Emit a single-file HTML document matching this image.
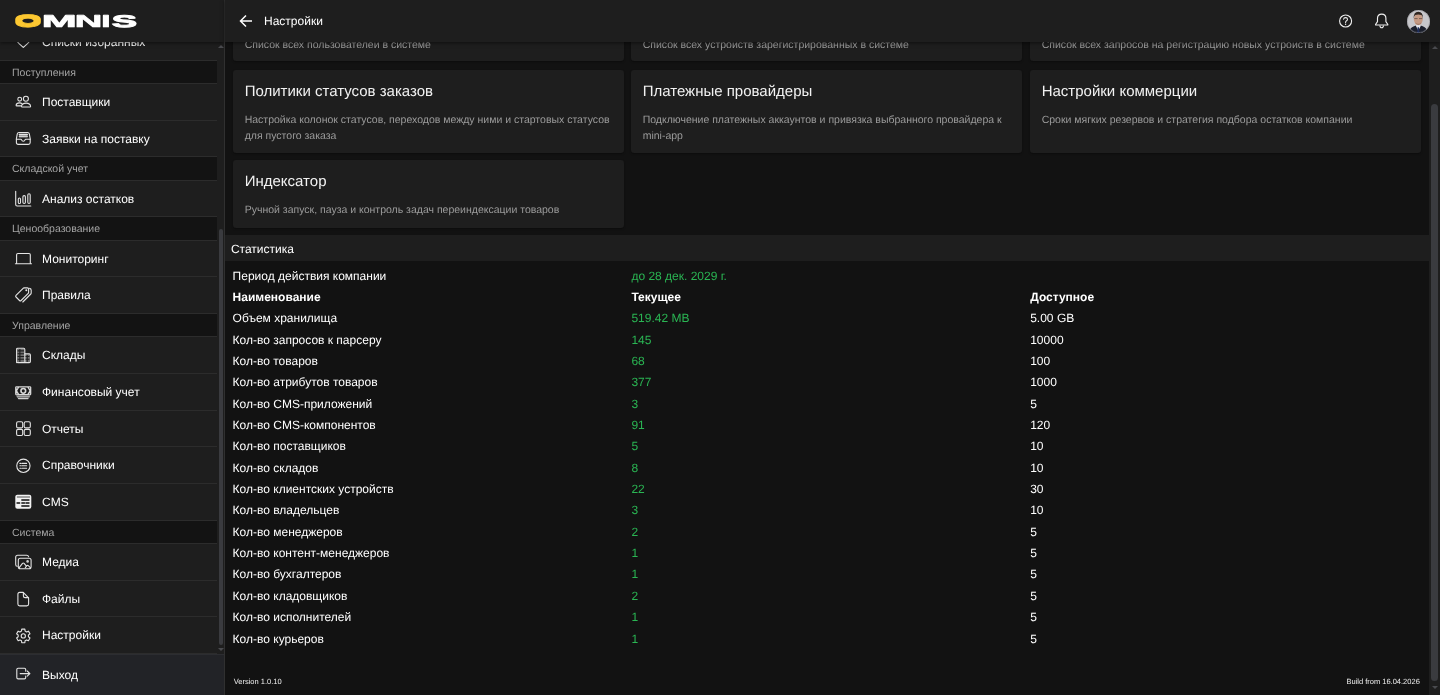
<!DOCTYPE html>
<html lang="ru">
<head>
<meta charset="utf-8">
<title>Настройки</title>
<style>
*{box-sizing:border-box;margin:0;padding:0}
html,body{width:1440px;height:695px;overflow:hidden;background:#121212}
body{-webkit-font-smoothing:antialiased;text-rendering:geometricPrecision;font-family:"Liberation Sans",sans-serif;font-size:12px;color:#fff;position:relative}
.abs{position:absolute}
/* ---------- sidebar ---------- */
#side{position:absolute;left:0;top:0;width:225px;height:695px;background:#1e1e1e;border-right:1px solid #303030;overflow:hidden}
#list{position:absolute;left:0;top:24px;width:217px}
.it{height:36.667px;line-height:37.4px;border-bottom:1px solid #2c2c2c;padding-left:42px;position:relative;font-size:12px;color:#fff;white-space:nowrap;background:#1e1e1e}
.it svg{position:absolute;left:13px;top:8px;width:20px;height:20px;overflow:visible}
.sh{height:23.333px;line-height:24.0px;border-bottom:1px solid #2c2c2c;background:#131313;color:#a3a3a3;font-size:10.5px;padding-left:12px;white-space:nowrap}
#exit{position:absolute;left:0;top:653.7px;width:224px;height:41.3px;background:#222327;border-top:1px solid #2c2d31;padding-left:42px;line-height:41px;font-size:12px}
#exit svg{position:absolute;left:13px;top:10.5px;width:20px;height:20px;overflow:visible}
#sbar{position:absolute;left:217px;top:42px;width:7px;height:612px;background:#1e1e1e}
#sbar i{position:absolute;left:1.5px;top:187px;width:4.5px;height:416px;border-radius:3px;background:#3a3b3f}
#logo{position:absolute;left:0;top:0;width:224px;height:42px;background:#1e1e1e;box-shadow:0 1px 4px rgba(0,0,0,.55);z-index:5}
/* ---------- top bar ---------- */
#top{position:absolute;left:225px;top:0;width:1215px;height:42px;background:#1e1e1e;box-shadow:0 1px 4px rgba(0,0,0,.55);z-index:4}
#top .ttl{position:absolute;left:39px;top:0;line-height:42.7px;font-size:12px;color:#fff}
/* ---------- main ---------- */
#main{position:absolute;left:225px;top:42px;width:1204px;height:653px;overflow:hidden}
.card{position:absolute;background:#1e1e1e;border-radius:3.3px;box-shadow:0 1px 2px rgba(0,0,0,.35);width:390.8px}
.card h3{position:absolute;left:11.7px;top:10px;font-weight:400;font-size:15px;line-height:24px;color:#f2f2f2;white-space:nowrap}
.card p{position:absolute;left:11.7px;top:43px;font-size:10.5px;line-height:15.75px;color:#9b9b9b;width:372px}
#stat{position:absolute;left:0;top:193.4px;width:1204px;height:25.5px;background:#1e1e1e;line-height:28.5px;padding-left:5.9px;font-size:12px}
table{position:absolute;left:5.9px;top:223.07px;border-collapse:collapse;table-layout:fixed;width:1196.4px}
td,th{height:21.353px;line-height:18px;padding:0 0 0 1.6px;font-size:12px;text-align:left;font-weight:400;color:#fff;white-space:nowrap}
th{font-weight:700}
td.g{color:#2ab553}
.foot{position:absolute;top:633.2px;font-size:7.5px;line-height:14px;color:#f0f0f0;white-space:nowrap}
#vbar{position:absolute;left:1429px;top:42px;width:11px;height:653px;background:#1e1e1e}
#vbar i{position:absolute;left:2px;top:62px;width:7px;height:577px;border-radius:4px;background:#3a3b3f}
.tri{position:absolute;width:0;height:0;border-left:3px solid transparent;border-right:3px solid transparent}
.s{fill:none;stroke:#e4e4e4;stroke-width:1.1;stroke-linecap:round;stroke-linejoin:round}
#side,#top,#main,#list,#exit,.card,table{will-change:transform}
</style>
</head>
<body>
<div id="side">
 <div id="list">
  <div class="it"><svg viewBox="0 0 20 20"><path class="s" d="M10.3 15.4 C8.6 13.8 5.6 11.6 4 9.3 A3.6 3.6 0 0 1 9.5 4.6 L10.3 5.4 L11.1 4.6 A3.6 3.6 0 0 1 16.6 9.3 C15 11.6 12 13.8 10.3 15.4 Z"/></svg>Списки избранных</div>
  <div class="sh">Поступления</div>
  <div class="it"><svg viewBox="0 0 20 20"><circle class="s" cx="6.7" cy="7.2" r="1.9"/><circle class="s" cx="12.9" cy="6.8" r="2.5"/><path class="s" d="M8.2 13.9 H3.7 Q3.1 13.9 3.1 13.2 Q3.5 10.9 6.4 10.9 Q8.2 10.9 9 11.7" stroke-width="1.2"/><path class="s" d="M8.5 14.3 Q8.9 11.1 13.1 11.1 Q17.2 11.1 17.6 14.3 Q17.6 15 17 15 H9.1 Q8.5 15 8.5 14.3 Z" stroke-width="1.2"/></svg>Поставщики</div>
  <div class="it"><svg viewBox="0 0 20 20"><path d="M6 4.8 H14.6 V8.6 H6 Z" fill="#8a8a8a"/><path class="s" d="M6.2 5.4 H14.4 M6.2 7.2 H14.4" stroke-width=".8"/><path class="s" d="M5.9 3.5 H14.7 Q16 3.5 16.3 4.8 L17.2 9.6 V13.6 Q17.2 15.4 15.4 15.4 H5.2 Q3.4 15.4 3.4 13.6 V9.6 L4.3 4.8 Q4.6 3.5 5.9 3.5 Z"/><path class="s" d="M3.4 10.2 H7.8 Q8.4 10.2 8.6 10.9 Q9 12.3 10.3 12.3 Q11.6 12.3 12 10.9 Q12.2 10.2 12.8 10.2 H17.2"/></svg>Заявки на поставку</div>
  <div class="sh">Складской учет</div>
  <div class="it"><svg viewBox="0 0 20 20"><path class="s" d="M2.7 2.3 V15.6 Q2.7 17 4.1 17 H17.8" stroke-width="1.3"/><rect class="s" x="5.3" y="9" width="2.2" height="5.5" rx="1.1"/><rect class="s" x="9.9" y="6.6" width="2.5" height="7.9" rx="1.2"/><rect class="s" x="14.8" y="4.7" width="2.4" height="9.8" rx="1.2"/></svg>Анализ остатков</div>
  <div class="sh">Ценообразование</div>
  <div class="it"><svg viewBox="0 0 20 20"><path class="s" d="M3.6 13.9 V5.8 Q3.6 4.5 4.9 4.5 H16 Q17.3 4.5 17.3 5.8 V13.9 M2.4 14.7 H18.5" stroke-width="1.25"/></svg>Мониторинг</div>
  <div class="it"><svg viewBox="0 0 20 20"><path class="s" d="M11 2.9 H14.4 Q15.6 2.9 15.6 4.1 V7.5 Q15.6 8 15.2 8.4 L8.1 15.5 Q7.3 16.3 6.5 15.5 L3 12 Q2.2 11.2 3 10.4 L10.1 3.3 Q10.5 2.9 11 2.9 Z"/><circle cx="13.3" cy="5.2" r="1" fill="#e6e6e6"/><path class="s" d="M16.6 3.4 Q18.2 3.7 18.2 5.2 V8 Q18.2 8.6 17.8 9 L9.8 17" stroke-width="1.2"/></svg>Правила</div>
  <div class="sh">Управление</div>
  <div class="it"><svg viewBox="0 0 20 20" style="margin-top:0.6px;margin-left:0.0px"><path d="M4.2 3 H11.2 V16.4 H4.2 Z M11.6 8.6 H16.8 V16.4 H11.6 Z" fill="#6f6f6f"/><path d="M4.4 4.9 H11 M4.4 7.7 H11 M4.4 10.5 H16.6 M4.4 13.3 H16.6 M6.9 3 V16.4 M14.2 8.6 V16.4" stroke="#1e1e1e" stroke-width="1.1" fill="none"/><path class="s" d="M3.6 16.6 V3.4 Q3.6 2.2 4.8 2.2 H10.6 Q11.8 2.2 11.8 3.4 V7.9 H16.2 Q17.4 7.9 17.4 9.1 V15.4 Q17.4 16.6 16.2 16.6 H4.8 Q3.6 16.6 3.6 15.4" stroke-width="1.2"/><path class="s" d="M11.8 7.9 V16.4" stroke-width=".9"/></svg>Склады</div>
  <div class="it"><svg viewBox="0 0 20 20" style="margin-top:0.6px;margin-left:0.0px"><rect x="2.1" y="3.2" width="16.2" height="9.3" rx="1.4" fill="#d9d9d9"/><path d="M6.2 4.6 L4.2 7.85 L6.2 11.1 H14.4 L16.4 7.85 L14.4 4.6 Z" fill="#1a1a1a"/><circle cx="10.3" cy="7.85" r="2.35" fill="#1a1a1a" stroke="#d9d9d9" stroke-width="1.6"/><circle cx="3.9" cy="4.9" r=".55" fill="#222"/><circle cx="16.6" cy="4.9" r=".55" fill="#222"/><circle cx="3.9" cy="10.8" r=".55" fill="#222"/><circle cx="16.6" cy="10.8" r=".55" fill="#222"/><path d="M3.4 13.3 H17.1 L16.4 14.6 H4.1 Z M4.7 15 H15.8 L15.1 16.2 H5.4 Z" fill="#cfcfcf"/></svg>Финансовый учет</div>
  <div class="it"><svg viewBox="0 0 20 20"><rect class="s" x="3.6" y="2.8" width="6.1" height="6.1" rx="1.4" stroke-width="1.25"/><rect class="s" x="11.2" y="2.8" width="6.1" height="6.1" rx="1.4" stroke-width="1.25"/><rect class="s" x="3.6" y="10.4" width="6.1" height="6.1" rx="1.4" stroke-width="1.25"/><rect class="s" x="11.2" y="10.4" width="6.1" height="6.1" rx="1.4" stroke-width="1.25"/></svg>Отчеты</div>
  <div class="it"><svg viewBox="0 0 20 20" style="margin-top:1.0px;margin-left:0.0px"><circle class="s" cx="10.4" cy="9.8" r="6.65" stroke-width="1.4"/><path class="s" d="M8.8 7.4 H13.6 M8.8 9.8 H13.6 M8.8 12.2 H13.6" stroke-width="1.3" stroke-linecap="butt"/><path class="s" d="M6.9 7.4 H7.8 M6.9 9.8 H7.8 M6.9 12.2 H7.8" stroke-width="1.3" stroke-linecap="butt"/></svg>Справочники</div>
  <div class="it"><svg viewBox="0 0 20 20"><rect x="2.3" y="2.8" width="16" height="14" rx="2" fill="#f2f2f2"/><path d="M3.9 5 H17 " stroke="#3a3a3a" stroke-width=".9"/><path d="M8.8 8 H16 M4 11 H6.7 M8.8 11 H11.6 M13 11 H16 M8.8 14 H16" stroke="#0e0e0e" stroke-width="1.35" stroke-linecap="round"/></svg>CMS</div>
  <div class="sh">Система</div>
  <div class="it"><svg viewBox="0 0 20 20" style="margin-top:0.4px;margin-left:0.0px"><path class="s" d="M4.2 14.3 Q2.7 14 2.7 12.4 V5.2 Q2.7 3.2 4.7 3.2 H13.6 Q15.3 3.2 15.6 4.7" stroke-width="1.2"/><rect class="s" x="5.3" y="6.2" width="12.8" height="10.5" rx="2" stroke-width="1.2"/><circle cx="14.6" cy="9.4" r="1.3" fill="#d0d0d0"/><path class="s" d="M6 15.8 L9.5 11.4 Q10.3 10.6 11.1 11.4 L13.4 14.2 M12.3 15.6 L13.9 13.7 Q14.6 13 15.3 13.7 L17.5 15.8" stroke-width="1.2"/></svg>Медиа</div>
  <div class="it"><svg viewBox="0 0 20 20"><path class="s" d="M6.7 3.4 H10.2 L15.6 8.8 V15.1 Q15.6 16.9 13.8 16.9 H6.7 Q4.9 16.9 4.9 15.1 V5.2 Q4.9 3.4 6.7 3.4 Z" stroke-width="1.25"/><path class="s" d="M10.4 3.6 V6.9 Q10.4 8.6 12.1 8.6 H15.4" stroke-width="1.25"/></svg>Файлы</div>
  <div class="it"><svg viewBox="0 0 20 20" style="margin-top:1.0px;margin-left:0.0px"><path class="s" d="M8.52 5.01 L8.73 3.08 L11.87 3.08 L12.08 5.01 L13.64 5.92 L15.42 5.13 L16.99 7.85 L15.42 9.00 L15.42 10.80 L16.99 11.95 L15.42 14.67 L13.64 13.88 L12.08 14.79 L11.87 16.72 L8.73 16.72 L8.52 14.79 L6.96 13.88 L5.18 14.67 L3.61 11.95 L5.18 10.80 L5.18 9.00 L3.61 7.85 L5.18 5.13 L6.96 5.92 Z" stroke-width="1.2"/><circle class="s" cx="10.3" cy="9.9" r="2.1" stroke-width="1.2"/></svg>Настройки</div>
 </div>
 <div id="sbar"><i></i><b class="tri" style="left:0.5px;top:3px;border-bottom:3px solid #4a4b4f"></b><b class="tri" style="left:0.5px;top:606px;border-top:3px solid #4a4b4f"></b></div>
 <div id="exit"><svg viewBox="0 0 20 20" style="margin-top:-2.2px;margin-left:-0.3px"><path class="s" d="M12.7 8.2 V6.6 Q12.7 5.3 11.4 5.3 H5.1 Q3.8 5.3 3.8 6.6 V14.6 Q3.8 15.9 5.1 15.9 H11.4 Q12.7 15.9 12.7 14.6 V13" stroke-width="1.25"/><path class="s" d="M7.2 10.6 H16.4 M14.2 8 L16.9 10.6 L14.2 13.2" stroke-width="1.25"/></svg>Выход</div>
 <div id="logo"><svg width="224" height="42" viewBox="0 0 224 42" style="position:absolute;left:0;top:0"><g font-family="Liberation Sans, sans-serif" font-weight="700" font-size="16"><defs><filter id="fo" x="-5%" y="-40%" width="110%" height="180%"><feMorphology operator="dilate" radius="0 1"/></filter><filter id="fs" x="-5%" y="-40%" width="110%" height="180%"><feMorphology operator="dilate" radius="0 1"/></filter></defs><g filter="url(#fo)"><text transform="translate(14.79 26.12) scale(2.138 0.946)" fill="#fdc830" stroke="#fdc830" stroke-width="0.9" stroke-linejoin="round">O</text></g><text transform="translate(41.76 26.88) scale(2.627 1.074)" fill="#fff" stroke="#fff" stroke-width="0.6" stroke-linejoin="round">M</text><text transform="translate(74.74 26.88) scale(2.380 1.074)" fill="#fff" stroke="#fff" stroke-width="0.6" stroke-linejoin="round">N</text><text transform="translate(101.25 26.88) scale(2.089 1.074)" fill="#fff" stroke="#fff" stroke-width="0.6" stroke-linejoin="round">I</text><text transform="translate(111.63 26.76) scale(2.362 1.052)" fill="#fff" stroke="#fff" stroke-width="0.9" stroke-linejoin="round">S</text></g></svg></div>
</div>

<div id="top">
 <svg class="abs" style="left:11px;top:11px;overflow:visible" width="20" height="20" viewBox="0 0 20 20"><path d="M16 10 H4.6 M10 4.5 L4.5 10 L10 15.5" fill="none" stroke="#fff" stroke-width="1.5"/></svg>
 <div class="ttl">Настройки</div>
 <svg class="abs" style="left:1110px;top:10.8px;overflow:visible" width="20" height="20" viewBox="0 0 20 20"><circle cx="10.6" cy="10" r="6" fill="none" stroke="#f0f0f0" stroke-width="1.1"/><path d="M8.6 8.3 Q8.7 6.6 10.6 6.6 Q12.5 6.6 12.5 8.2 Q12.5 9.2 11.5 9.8 Q10.6 10.4 10.6 11.4" fill="none" stroke="#f0f0f0" stroke-width="1.05" stroke-linecap="round"/><circle cx="10.6" cy="13.2" r=".7" fill="#f0f0f0"/></svg>
 <svg class="abs" style="left:1146px;top:11px;overflow:visible" width="20" height="20" viewBox="0 0 20 20"><path d="M4.9 14 Q4.3 14 4.7 13.3 L6.5 10.6 V7.3 Q6.5 3.1 10.7 3.1 Q14.9 3.1 14.9 7.3 V10.6 L16.7 13.3 Q17.1 14 16.5 14 Z" fill="none" stroke="#f0f0f0" stroke-width="1.15" stroke-linejoin="round"/><path d="M8.9 14.4 Q9 16.7 10.7 16.7 Q12.4 16.7 12.5 14.4" fill="none" stroke="#f0f0f0" stroke-width="1.1"/></svg>
 <svg class="abs" style="left:1181.7px;top:9.6px" width="23" height="23" viewBox="0 0 46 46"><defs><clipPath id="avc"><circle cx="23" cy="23" r="23"/></clipPath></defs><g clip-path="url(#avc)"><rect width="46" height="46" fill="#c7c7cb"/><path d="M5 46 Q5 35 14 32.5 L22.6 29.5 L31.5 32.5 Q40 35 40.5 46 Z" fill="#1b1f2c"/><path d="M17.6 31.4 L22.6 41 L27.8 31.4 L25.6 28 H19.8 Z" fill="#e4e6ec"/><path d="M21.3 34.4 H24 L25 46 H20.3 Z" fill="#1f2f5e"/><ellipse cx="22.6" cy="18.6" rx="8.9" ry="11.6" fill="#c59a84"/><path d="M13.4 17.6 Q12.6 3.6 22.6 3.4 Q32.6 3.6 31.8 17.6 Q31.2 11.2 28.6 9.8 Q22.6 8.4 16.6 9.8 Q14 11.2 13.4 17.6 Z" fill="#2f2621"/><path d="M14.6 17.2 H21.2 M24 17.2 H30.6" stroke="#4a3c36" stroke-width="1.3"/><path d="M16.6 24.4 Q22.6 30.8 28.6 24.4 Q27.6 30 22.6 30.4 Q17.6 30 16.6 24.4 Z" fill="#a27c69"/></g><circle cx="23" cy="23" r="22.4" fill="none" stroke="#8d8d92" stroke-width="1"/></svg>
</div>

<div id="main">
<div class="card" style="left:7.8px;top:-47px;width:390.8px;height:66.4px"><h3>Пользователи</h3><p>Список всех пользователей в системе</p></div>
<div class="card" style="left:406.3px;top:-47px;width:391.4px;height:66.4px"><h3>Устройства</h3><p>Список всех устройств зарегистрированных в системе</p></div>
<div class="card" style="left:805.3px;top:-47px;width:391.2px;height:66.4px"><h3>Запросы на регистрацию</h3><p>Список всех запросов на регистрацию новых устройств в системе</p></div>
<div class="card" style="left:7.8px;top:28px;width:390.8px;height:83px"><h3>Политики статусов заказов</h3><p>Настройка колонок статусов, переходов между ними и стартовых статусов для пустого заказа</p></div>
<div class="card" style="left:406.3px;top:28px;width:391.4px;height:83px"><h3>Платежные провайдеры</h3><p>Подключение платежных аккаунтов и привязка выбранного провайдера к mini-app</p></div>
<div class="card" style="left:805.3px;top:28px;width:391.2px;height:83px"><h3>Настройки коммерции</h3><p>Сроки мягких резервов и стратегия подбора остатков компании</p></div>
<div class="card" style="left:7.8px;top:118px;width:390.8px;height:68px"><h3>Индексатор</h3><p>Ручной запуск, пауза и контроль задач переиндексации товаров</p></div>
<div id="stat">Статистика</div>
<table><colgroup><col style="width:398.8px"><col style="width:398.8px"><col style="width:398.8px"></colgroup>
<tr><td>Период действия компании</td><td class="g">до 28 дек. 2029 г.</td><td></td></tr>
<tr><th>Наименование</th><th>Текущее</th><th>Доступное</th></tr>
<tr><td>Объем хранилища</td><td class="g">519.42 MB</td><td>5.00 GB</td></tr>
<tr><td>Кол-во запросов к парсеру</td><td class="g">145</td><td>10000</td></tr>
<tr><td>Кол-во товаров</td><td class="g">68</td><td>100</td></tr>
<tr><td>Кол-во атрибутов товаров</td><td class="g">377</td><td>1000</td></tr>
<tr><td>Кол-во CMS-приложений</td><td class="g">3</td><td>5</td></tr>
<tr><td>Кол-во CMS-компонентов</td><td class="g">91</td><td>120</td></tr>
<tr><td>Кол-во поставщиков</td><td class="g">5</td><td>10</td></tr>
<tr><td>Кол-во складов</td><td class="g">8</td><td>10</td></tr>
<tr><td>Кол-во клиентских устройств</td><td class="g">22</td><td>30</td></tr>
<tr><td>Кол-во владельцев</td><td class="g">3</td><td>10</td></tr>
<tr><td>Кол-во менеджеров</td><td class="g">2</td><td>5</td></tr>
<tr><td>Кол-во контент-менеджеров</td><td class="g">1</td><td>5</td></tr>
<tr><td>Кол-во бухгалтеров</td><td class="g">1</td><td>5</td></tr>
<tr><td>Кол-во кладовщиков</td><td class="g">2</td><td>5</td></tr>
<tr><td>Кол-во исполнителей</td><td class="g">1</td><td>5</td></tr>
<tr><td>Кол-во курьеров</td><td class="g">1</td><td>5</td></tr>
</table>
<div class="foot" style="left:8.7px">Version 1.0.10</div><div class="foot" style="right:9.2px">Build from 16.04.2026</div>
</div>
<div id="vbar"><i></i><b class="tri" style="left:2.5px;top:3.5px;border-bottom:3px solid #4a4b4f"></b><b class="tri" style="left:2.5px;top:644px;border-top:3px solid #4a4b4f"></b></div>

</body>
</html>
